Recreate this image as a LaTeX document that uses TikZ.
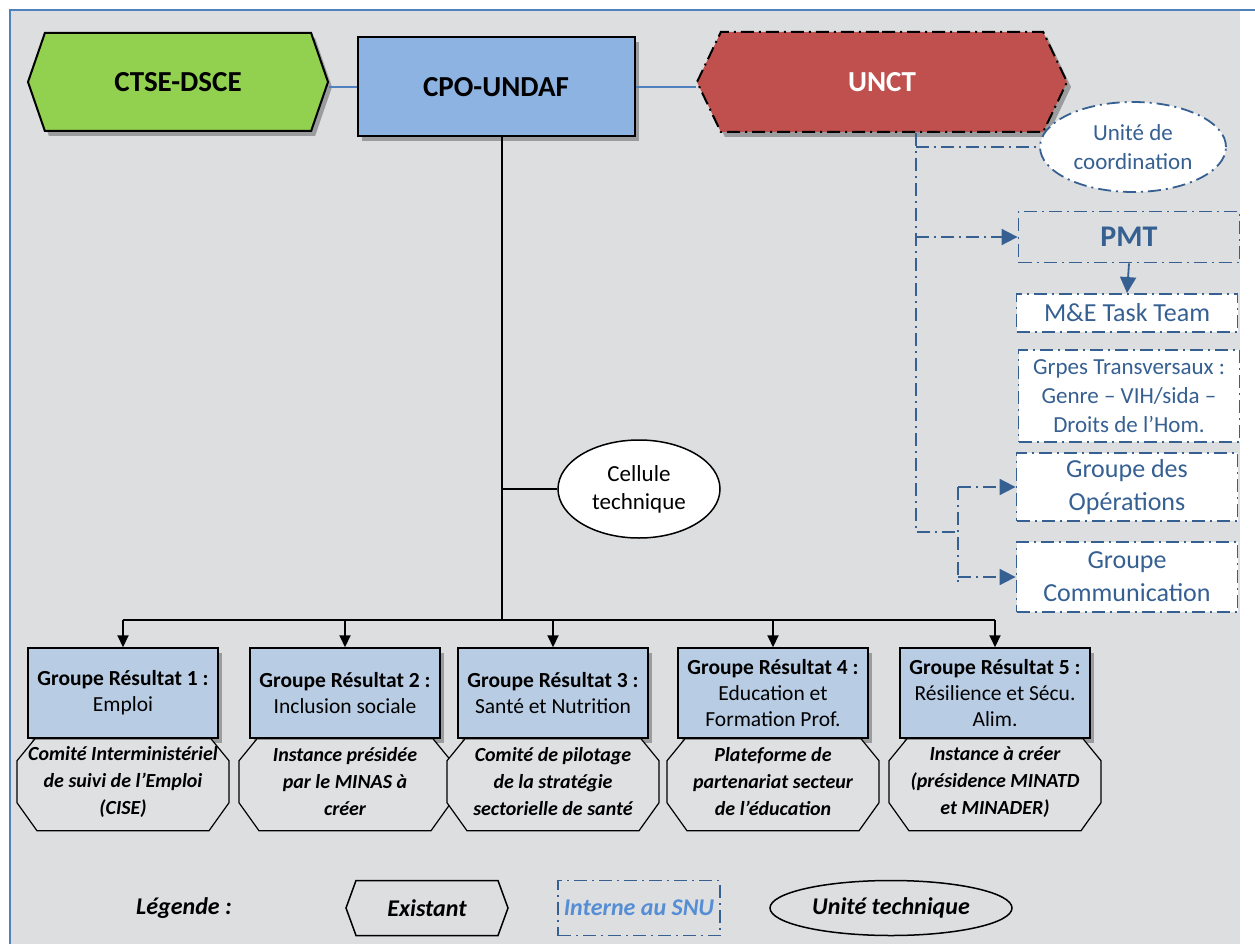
\documentclass[tikz,border=0pt]{standalone}
\usepackage{fontspec}
\setmainfont{Carlito}
\usepackage{tikz}
\usetikzlibrary{shapes.symbols}
\usetikzlibrary{shapes.geometric}
\usetikzlibrary{arrows.meta}
\usetikzlibrary{shadows}
\usepackage{color}

\definecolor{fond}{RGB}{221,222,224}
\definecolor{cadre}{RGB}{79,129,189}
\definecolor{vertexist}{RGB}{146,208,80}
\definecolor{bleucpo}{RGB}{141,179,226}
\definecolor{rougeunct}{RGB}{192,80,77}
\definecolor{bleusnu}{RGB}{54,96,146}
\definecolor{bleuleg}{RGB}{85,142,213}
\definecolor{bleugrp}{RGB}{184,204,228}
\definecolor{grisinst}{RGB}{223,224,226}

\tikzset{
	tiret point/.style={dash pattern=on 13pt off 5pt on 2pt off 5pt},
	hexa/.style={signal, signal to=west and east, draw=black, line width=2pt, inner sep=0pt, font=\fontsize{29}{34}\selectfont\bfseries},
	ombre/.style={drop shadow={shadow xshift=4pt, shadow yshift=-5pt, opacity=.45, fill=black!70}},
	snubox/.style={draw=bleusnu, tiret point, line width=1.8pt, text=bleusnu, align=center, inner sep=0pt, minimum width=221},
	snulien/.style={draw=bleusnu, tiret point, line width=1.8pt, >={Triangle[length=16pt,width=16pt]}},
	grp/.style={draw=black, line width=1.5pt, fill=bleugrp, align=center, inner sep=0pt, minimum width=190, minimum height=90, font=\fontsize{21.5}{26}\selectfont},
	octo/.style={draw=black, line width=1.2pt, fill=grisinst},
	insttxt/.style={align=center, inner sep=0pt, font=\fontsize{20}{27}\selectfont\bfseries\itshape},
	legende/.style={font=\fontsize{24}{28}\selectfont\bfseries\itshape, inner sep=0pt, minimum width=162, minimum height=55}
}

% octogone sous un groupe de resultat
\newcommand{\octogone}[1]{%
	\draw[octo] ([shift={(-88,0)}]#1.south) -- ([shift={(88,0)}]#1.south) -- ([shift={(106,22)}]#1.south) -- ([shift={(106,64)}]#1.south) -- ([shift={(86,92)}]#1.south) -- ([shift={(-86,92)}]#1.south) -- ([shift={(-106,64)}]#1.south) -- ([shift={(-106,22)}]#1.south) -- cycle;}

\begin{document}
\begin{tikzpicture}[x=1pt,y=-1pt,>={Triangle[length=12pt,width=11pt]}]
	\useasboundingbox (0,0) rectangle (1255,944);
	\fill[fond] (10,10) rectangle (1240,944);
	\draw[cadre,line width=1.5pt] (10,944) -- (10,10) -- (1255,10);

	% pilotage
	\node[hexa,fill=vertexist,ombre,signal pointer angle=142,minimum width=300,minimum height=98] (ctse) at (178,82) {CTSE-DSCE};
	\node[draw=black,line width=2pt,fill=bleucpo,ombre,minimum width=277,minimum height=99,font=\fontsize{29}{34}\selectfont\bfseries] (cpo) at (496,87) {CPO-UNDAF};
	\node[hexa,fill=rougeunct,ombre,tiret point,text=white,signal pointer angle=129,minimum width=370,minimum height=100] (unct) at (882,82) {UNCT};
	\draw[cadre,line width=1.5pt] (cpo.west) -- (cpo.west -| ctse.east);
	\draw[cadre,line width=1.5pt] (cpo.east) -- (cpo.east -| unct.west);

	% interne au SNU
	\node[snubox,fill=white,ellipse,minimum width=186,minimum height=90,font=\fontsize{23}{29}\selectfont] (coord) at (1133,147) {Unité de\\coordination};
	\node[snubox,minimum height=51,font=\fontsize{30}{34}\selectfont\bfseries] (pmt) at (1129,237) {PMT};
	\node[snubox,fill=white,minimum height=38,font=\fontsize{26}{30}\selectfont] (mande) at (1127,313) {M\&E Task Team};
	\node[snubox,fill=white,minimum height=92,font=\fontsize{23}{29}\selectfont] (transv) at (1129,396) {Grpes Transversaux :\\Genre – VIH/sida –\\Droits de l’Hom.};
	\node[snubox,fill=white,minimum height=68,font=\fontsize{26}{33}\selectfont] (ops) at (1127,487) {Groupe des\\Opérations};
	\node[snubox,fill=white,minimum height=70,font=\fontsize{26}{33}\selectfont] (comm) at (1127,577) {Groupe\\Communication};

	\coordinate (snuhaut) at (916,133);
	\coordinate (snubas) at (916,532);
	\coordinate (snudiv) at (958,532);
	\coordinate (snufin) at (958,583);
	\draw[snulien] (snuhaut) -- (snubas) -- (snudiv);
	\draw[snulien] (snuhaut |- coord.west) -- (coord.west);
	\draw[snulien,->] (snuhaut |- pmt.west) -- (pmt.west);
	\draw[snulien] (snudiv |- ops.west) -- (snufin);
	\draw[snulien,->] (snudiv |- ops.west) -- (ops.west);
	\draw[snulien,->] (snudiv |- comm.west) -- (comm.west);
	\draw[bleusnu,line width=1.8pt,->,>={Triangle[length=16pt,width=16pt]}] (pmt.south) -- (mande.north);

	% cellule technique
	\coordinate (bus) at (502,620);
	\node[draw=black,line width=1.5pt,fill=white,ellipse,minimum width=162,minimum height=98,inner sep=0pt,align=center,font=\fontsize{23}{28}\selectfont] (cell) at (639,489) {Cellule\\technique};
	\draw[line width=2pt] (cpo.south -| bus) -- (bus);
	\draw[line width=1.5pt] (cell.west) -- (cell.west -| bus);

	% groupes de resultats
	\node[grp,ombre] (g1) at (123,693) {\textbf{Groupe Résultat 1 :}\\Emploi};
	\node[grp,ombre] (g2) at (345,693) {\textbf{Groupe Résultat 2 :}\\Inclusion sociale};
	\node[grp,ombre] (g3) at (553,693) {\textbf{Groupe Résultat 3 :}\\Santé et Nutrition};
	\node[grp,ombre] (g4) at (773,693) {\textbf{Groupe Résultat 4 :}\\Education et\\Formation Prof.};
	\node[grp,ombre] (g5) at (995,693) {\textbf{Groupe Résultat 5 :}\\Résilience et Sécu.\\Alim.};
	\draw[line width=2pt] (g1.north |- bus) -- (g5.north |- bus);
	\draw[line width=2pt,->] (g1.north |- bus) -- (g1.north);
	\draw[line width=2pt,->] (g2.north |- bus) -- (g2.north);
	\draw[line width=2pt,->] (g3.north |- bus) -- (g3.north);
	\draw[line width=2pt,->] (g4.north |- bus) -- (g4.north);
	\draw[line width=2pt,->] (g5.north |- bus) -- (g5.north);

	\octogone{g1}
	\octogone{g2}
	\octogone{g3}
	\octogone{g4}
	\octogone{g5}
	\node[insttxt] (i1) at ([shift={(0,43)}]g1.south) {Comité Interministériel\\de suivi de l’Emploi\\(CISE)};
	\node[insttxt] (i2) at ([shift={(0,43)}]g2.south) {Instance présidée\\par le MINAS à\\créer};
	\node[insttxt] (i3) at ([shift={(0,43)}]g3.south) {Comité de pilotage\\de la stratégie\\sectorielle de santé};
	\node[insttxt] (i4) at ([shift={(0,43)}]g4.south) {Plateforme de\\partenariat secteur\\de l’éducation};
	\node[insttxt] (i5) at ([shift={(0,43)}]g5.south) {Instance à créer\\(présidence MINATD\\et MINADER)};

	% legende
	\node[font=\fontsize{24}{28}\selectfont\bfseries\itshape] (leg) at (184,908) {Légende :};
	\node[legende,signal,signal to=west and east,signal pointer angle=140,draw=black,line width=1.5pt] (legexist) at (427,908) {Existant};
	\node[legende,draw=bleusnu,tiret point,line width=1.5pt,text=bleuleg] (legsnu) at (639,908) {Interne au SNU};
	\node[legende,ellipse,draw=black,line width=1.5pt,minimum width=242] (legtech) at (891,908) {Unité technique};
\end{tikzpicture}
\end{document}
